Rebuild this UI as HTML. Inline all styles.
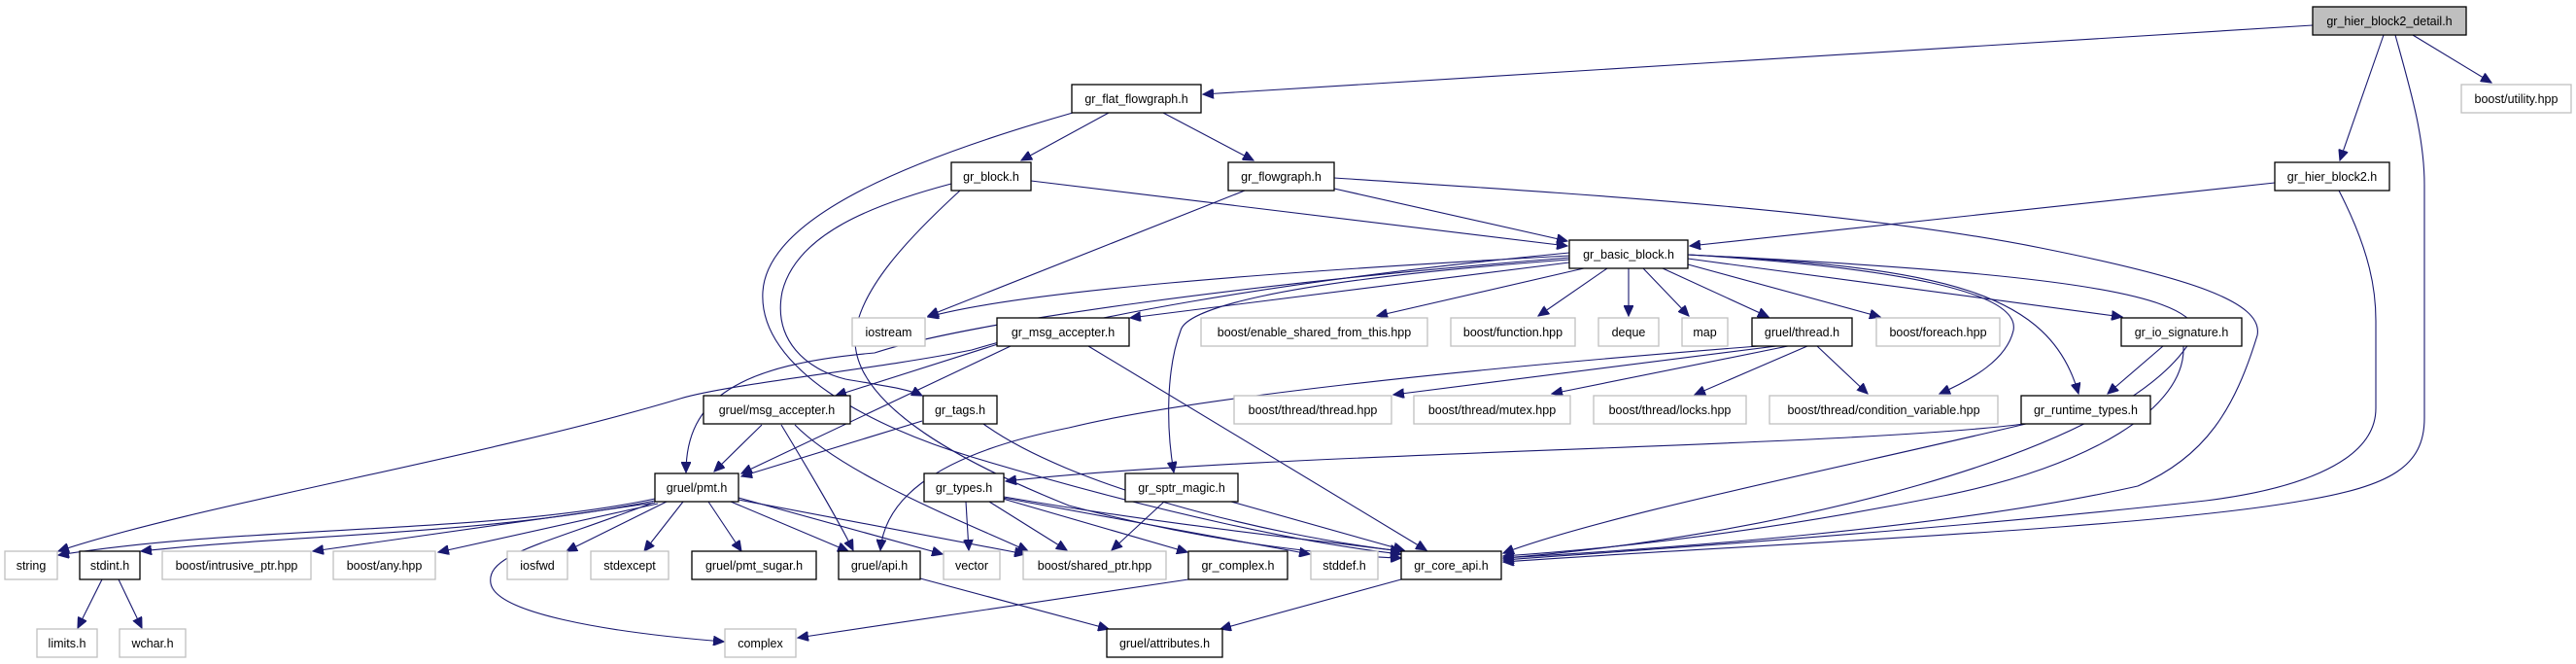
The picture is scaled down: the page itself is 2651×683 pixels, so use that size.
<!DOCTYPE html>
<html><head><meta charset="utf-8"><style>
html,body{margin:0;padding:0;background:#fff;}
svg{display:block;}
text{font-family:"Liberation Sans",sans-serif;font-size:12.5px;fill:#000;text-anchor:middle;}
.b rect{fill:#fff;stroke:#000;stroke-width:1.3;}
.g rect{fill:#fff;stroke:#bfbfbf;stroke-width:1.3;}
path{fill:none;stroke:#191970;stroke-width:1.1;marker-end:url(#a);}
</style></head><body>
<svg width="2651" height="683" viewBox="0 0 2651 683" xmlns="http://www.w3.org/2000/svg">
<defs><marker id="a" markerUnits="userSpaceOnUse" markerWidth="12" markerHeight="10" refX="11" refY="5" orient="auto"><path d="M0,0 L11,5 L0,10 z" style="fill:#191970;stroke:#191970;marker-end:none"/></marker></defs>
<g>
<path d="M2380,26 L1238,97"/>
<path d="M2453,36 L2408,165"/>
<path d="M2483,36 L2564,85"/>
<path d="M2465,36 C2480,90 2495,140 2495,190 L2495,430 C2495,480 2460,500 2370,515 C2200,545 1800,560 1547,578"/>
<path d="M2341,188 L1739,253"/>
<path d="M2407,196 C2440,260 2445,300 2445,330 L2445,420 C2445,480 2350,505 2270,515 C2000,545 1700,565 1547,576"/>
<path d="M1141,116 L1051,165"/>
<path d="M1197,116 L1290,165"/>
<path d="M1104,116 C950,160 790,220 785,300 C780,380 900,440 1000,470 C1200,530 1350,560 1442,570"/>
<path d="M1061,186 L1613,253"/>
<path d="M979,189 C900,210 820,240 805,300 C795,350 830,380 870,390 C910,397 935,400 949,407"/>
<path d="M988,196 C940,240 880,300 880,350 C880,420 1000,480 1100,520 C1250,560 1380,572 1442,574"/>
<path d="M1373,194 L1613,248"/>
<path d="M1281,196 L955,325"/>
<path d="M1373,183 C1600,198 1900,215 2100,255 C2250,285 2330,310 2323,345 C2300,420 2270,470 2200,500 C2000,545 1700,565 1547,574"/>
<path d="M1615,263 C1300,280 1050,300 955,326"/>
<path d="M1615,270 L1163,327"/>
<path d="M1630,276 L1417,325"/>
<path d="M1654,276 L1583,325"/>
<path d="M1676,276 L1676,325"/>
<path d="M1691,276 L1738,325"/>
<path d="M1711,276 L1820,326"/>
<path d="M1737,272 L1935,326"/>
<path d="M1737,266 L2184,326"/>
<path d="M1737,262 C1950,275 2080,300 2072,340 C2065,370 2030,390 1996,405"/>
<path d="M1737,262 C2000,275 2110,300 2139,405"/>
<path d="M1737,262 C2100,280 2250,300 2260,340 C2200,470 1800,555 1547,574"/>
<path d="M1615,267 C1300,290 1220,320 1215,340 C1200,380 1200,440 1208,486"/>
<path d="M1615,260 C1300,290 1100,330 1000,360 C900,380 750,395 700,410 C500,470 200,520 60,567"/>
<path d="M1615,265 C1300,290 1000,330 900,363 C760,375 706,410 706,486"/>
<path d="M1030,353 L860,407"/>
<path d="M1040,356 L763,487"/>
<path d="M1120,356 L1468,566"/>
<path d="M784,437 L735,485"/>
<path d="M804,437 C830,480 860,530 878,566"/>
<path d="M818,437 C870,490 1000,540 1058,567"/>
<path d="M949,433 L763,490"/>
<path d="M1012,436 C1100,500 1300,550 1442,567"/>
<path d="M1828,356 L1434,406"/>
<path d="M1840,356 L1597,405"/>
<path d="M1860,356 L1744,406"/>
<path d="M1870,356 L1922,405"/>
<path d="M1810,356 C1500,380 1221,410 1100,440 C950,470 910,520 906,566"/>
<path d="M2226,356 L2169,405"/>
<path d="M2247,356 C2250,420 2150,480 2000,510 C1800,550 1650,565 1547,572"/>
<path d="M2083,436 C1900,460 1300,465 1035,495"/>
<path d="M2085,436 C1900,480 1650,530 1547,569"/>
<path d="M674,513 C500,550 250,540 60,571"/>
<path d="M674,515 C500,550 300,550 145,567"/>
<path d="M674,517 L322,567"/>
<path d="M677,518 L451,568"/>
<path d="M686,516 L583,567"/>
<path d="M703,516 L663,567"/>
<path d="M729,516 L763,567"/>
<path d="M752,516 L873,567"/>
<path d="M760,512 L970,570"/>
<path d="M760,514 L1055,570"/>
<path d="M672,517 C560,560 500,570 505,600 C510,630 620,650 745,660"/>
<path d="M994,516 L997,566"/>
<path d="M1018,516 L1098,566"/>
<path d="M1032,513 L1222,568"/>
<path d="M1032,512 L1348,570"/>
<path d="M1033,511 C1200,540 1350,555 1442,567"/>
<path d="M1198,516 L1144,566"/>
<path d="M1267,516 L1445,566"/>
<path d="M105,596 L80,646"/>
<path d="M122,596 L146,646"/>
<path d="M947,595 L1141,647"/>
<path d="M1223,596 L821,656"/>
<path d="M1442,596 L1256,647"/>
</g>

<g class="b"><rect x="2380" y="7" width="158" height="29" style="fill:#bfbfbf"/><text x="2459" y="26">gr_hier_block2_detail.h</text></g>
<g class="b"><rect x="1103" y="87" width="133" height="29"/><text x="1169.5" y="106">gr_flat_flowgraph.h</text></g>
<g class="g"><rect x="2533" y="87" width="113" height="29"/><text x="2589.5" y="106">boost/utility.hpp</text></g>
<g class="b"><rect x="979" y="167" width="82" height="29"/><text x="1020" y="186">gr_block.h</text></g>
<g class="b"><rect x="1264" y="167" width="109" height="29"/><text x="1318.5" y="186">gr_flowgraph.h</text></g>
<g class="b"><rect x="2341" y="167" width="118" height="29"/><text x="2400" y="186">gr_hier_block2.h</text></g>
<g class="b"><rect x="1615" y="247" width="122" height="29"/><text x="1676" y="266">gr_basic_block.h</text></g>
<g class="g"><rect x="877" y="327" width="75" height="29"/><text x="914.5" y="346">iostream</text></g>
<g class="b"><rect x="1026" y="327" width="136" height="29"/><text x="1094" y="346">gr_msg_accepter.h</text></g>
<g class="g"><rect x="1236" y="327" width="233" height="29"/><text x="1352.5" y="346">boost/enable_shared_from_this.hpp</text></g>
<g class="g"><rect x="1493" y="327" width="128" height="29"/><text x="1557" y="346">boost/function.hpp</text></g>
<g class="g"><rect x="1645" y="327" width="62" height="29"/><text x="1676" y="346">deque</text></g>
<g class="g"><rect x="1731" y="327" width="47" height="29"/><text x="1754.5" y="346">map</text></g>
<g class="b"><rect x="1803" y="327" width="103" height="29"/><text x="1854.5" y="346">gruel/thread.h</text></g>
<g class="g"><rect x="1931" y="327" width="127" height="29"/><text x="1994.5" y="346">boost/foreach.hpp</text></g>
<g class="b"><rect x="2183" y="327" width="124" height="29"/><text x="2245" y="346">gr_io_signature.h</text></g>
<g class="b"><rect x="724" y="407" width="151" height="29"/><text x="799.5" y="426">gruel/msg_accepter.h</text></g>
<g class="b"><rect x="950" y="407" width="76" height="29"/><text x="988" y="426">gr_tags.h</text></g>
<g class="g"><rect x="1270" y="407" width="162" height="29"/><text x="1351" y="426">boost/thread/thread.hpp</text></g>
<g class="g"><rect x="1455" y="407" width="161" height="29"/><text x="1535.5" y="426">boost/thread/mutex.hpp</text></g>
<g class="g"><rect x="1640" y="407" width="157" height="29"/><text x="1718.5" y="426">boost/thread/locks.hpp</text></g>
<g class="g"><rect x="1821" y="407" width="235" height="29"/><text x="1938.5" y="426">boost/thread/condition_variable.hpp</text></g>
<g class="b"><rect x="2080" y="407" width="133" height="29"/><text x="2146.5" y="426">gr_runtime_types.h</text></g>
<g class="b"><rect x="674" y="487" width="86" height="29"/><text x="717" y="506">gruel/pmt.h</text></g>
<g class="b"><rect x="951" y="487" width="82" height="29"/><text x="992" y="506">gr_types.h</text></g>
<g class="b"><rect x="1158" y="487" width="116" height="29"/><text x="1216" y="506">gr_sptr_magic.h</text></g>
<g class="g"><rect x="5" y="567" width="54" height="29"/><text x="32" y="586">string</text></g>
<g class="b"><rect x="82" y="567" width="62" height="29"/><text x="113" y="586">stdint.h</text></g>
<g class="g"><rect x="167" y="567" width="153" height="29"/><text x="243.5" y="586">boost/intrusive_ptr.hpp</text></g>
<g class="g"><rect x="343" y="567" width="105" height="29"/><text x="395.5" y="586">boost/any.hpp</text></g>
<g class="g"><rect x="522" y="567" width="62" height="29"/><text x="553" y="586">iosfwd</text></g>
<g class="g"><rect x="608" y="567" width="80" height="29"/><text x="648" y="586">stdexcept</text></g>
<g class="b"><rect x="712" y="567" width="128" height="29"/><text x="776" y="586">gruel/pmt_sugar.h</text></g>
<g class="b"><rect x="863" y="567" width="84" height="29"/><text x="905" y="586">gruel/api.h</text></g>
<g class="g"><rect x="971" y="567" width="58" height="29"/><text x="1000" y="586">vector</text></g>
<g class="g"><rect x="1053" y="567" width="147" height="29"/><text x="1126.5" y="586">boost/shared_ptr.hpp</text></g>
<g class="b"><rect x="1223" y="567" width="102" height="29"/><text x="1274" y="586">gr_complex.h</text></g>
<g class="g"><rect x="1349" y="567" width="69" height="29"/><text x="1383.5" y="586">stddef.h</text></g>
<g class="b"><rect x="1442" y="567" width="103" height="29"/><text x="1493.5" y="586">gr_core_api.h</text></g>
<g class="g"><rect x="38" y="647" width="62" height="29"/><text x="69" y="666">limits.h</text></g>
<g class="g"><rect x="123" y="647" width="68" height="29"/><text x="157" y="666">wchar.h</text></g>
<g class="g"><rect x="746" y="647" width="73" height="29"/><text x="782.5" y="666">complex</text></g>
<g class="b"><rect x="1139" y="647" width="119" height="29"/><text x="1198.5" y="666">gruel/attributes.h</text></g>
</svg>
</body></html>
